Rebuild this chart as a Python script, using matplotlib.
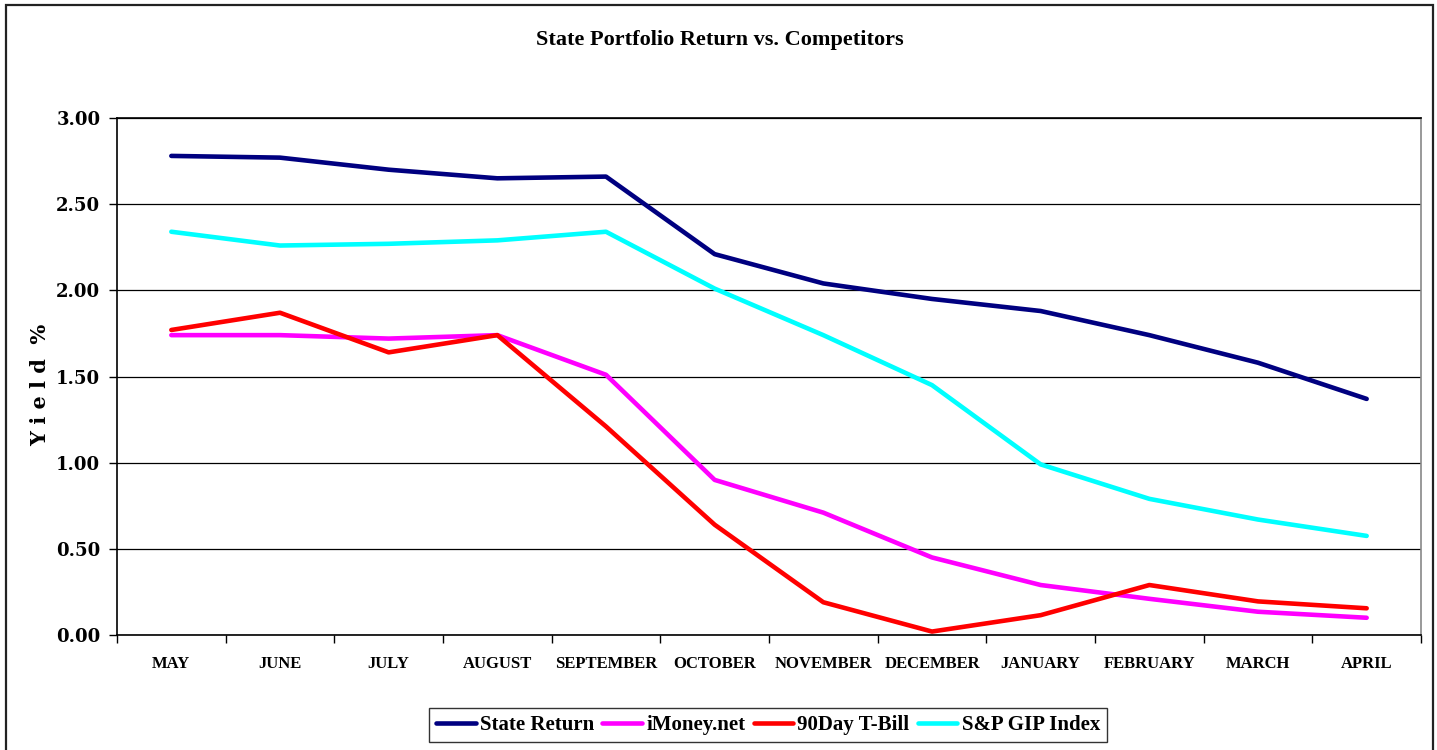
import matplotlib
matplotlib.use('Agg')
import matplotlib.pyplot as plt
from matplotlib.patches import Rectangle

# Monthly yields (%)
months = ['MAY', 'JUNE', 'JULY', 'AUGUST', 'SEPTEMBER', 'OCTOBER', 'NOVEMBER',
          'DECEMBER', 'JANUARY', 'FEBRUARY', 'MARCH', 'APRIL']
state_return = [2.78, 2.77, 2.70, 2.65, 2.66, 2.21, 2.04, 1.95, 1.88, 1.74, 1.58, 1.37]
imoney = [1.74, 1.74, 1.72, 1.74, 1.51, 0.90, 0.71, 0.45, 0.29, 0.21, 0.135, 0.10]
tbill = [1.77, 1.87, 1.64, 1.74, 1.21, 0.64, 0.19, 0.02, 0.115, 0.29, 0.195, 0.155]
sp_gip = [2.34, 2.26, 2.27, 2.29, 2.34, 2.01, 1.74, 1.45, 0.99, 0.79, 0.67, 0.575]
yticks = [0.0, 0.5, 1.0, 1.5, 2.0, 2.5, 3.0]

series = [
    ('State Return', state_return, '#000080'),
    ('iMoney.net', imoney, '#FF00FF'),
    ('90Day T-Bill', tbill, '#FF0000'),
    ('S&P GIP Index', sp_gip, '#00FFFF'),
]

W, H = 1437, 750
fig = plt.figure(figsize=(W / 100, H / 100), dpi=100)
ax = fig.add_axes([117 / W, 1 - 635 / H, (1421 - 117) / W, (635 - 118) / H])

# outer chart frame
fig.patches.append(Rectangle((6 / W, -0.02), (1433 - 6) / W, 1 - 5 / H + 0.02,
                             transform=fig.transFigure, fill=False,
                             edgecolor='#222222', linewidth=1.6))

x = list(range(len(months)))
for name, vals, col in series:
    ax.plot(x, vals, color=col, linewidth=3.3, label=name,
            solid_capstyle='round', solid_joinstyle='round', zorder=3)

ax.set_xlim(-0.5, len(months) - 0.5)
ax.set_ylim(0, 3)
ax.set_yticks(yticks)
ax.set_yticklabels([f'{v:.2f}' for v in yticks], fontfamily='DejaVu Serif',
                   fontweight='bold', fontsize=13)
ax.tick_params(axis='y', length=6, width=1, direction='out', pad=6)

ax.set_xticks(x)
ax.set_xticklabels(months, fontfamily='Liberation Serif', fontweight='bold',
                   fontsize=12)
ax.tick_params(axis='x', which='major', length=0, pad=15)
ax.set_xticks([i - 0.5 for i in range(len(months) + 1)], minor=True)
ax.tick_params(axis='x', which='minor', length=6, width=1, direction='out')

ax.grid(axis='y', color='black', linewidth=0.9)
ax.set_axisbelow(True)
for side in ['left', 'bottom', 'top']:
    ax.spines[side].set_color('black')
    ax.spines[side].set_linewidth(1.2)
ax.spines['right'].set_color('#888888')
ax.spines['right'].set_linewidth(1.2)

fig.text(40 / W, 1 - 385 / H, 'Y i e l d  %', rotation=90, ha='center',
         va='center', fontfamily='DejaVu Serif', fontweight='bold', fontsize=15)

fig.text(720 / W, 1 - 40 / H, 'State Portfolio Return vs. Competitors',
         ha='center', va='center', fontfamily='Liberation Serif',
         fontweight='bold', fontsize=16)

leg = fig.legend(loc='center', bbox_to_anchor=(768 / W, 1 - 725 / H), ncol=4,
                 frameon=True, fancybox=False, edgecolor='black',
                 prop={'family': 'Liberation Serif', 'weight': 'bold', 'size': 15},
                 handlelength=1.9, handletextpad=0.2, columnspacing=0.4,
                 borderpad=0.35)
leg.get_frame().set_linewidth(1.0)

fig.savefig('out.png', dpi=100, facecolor='white')
